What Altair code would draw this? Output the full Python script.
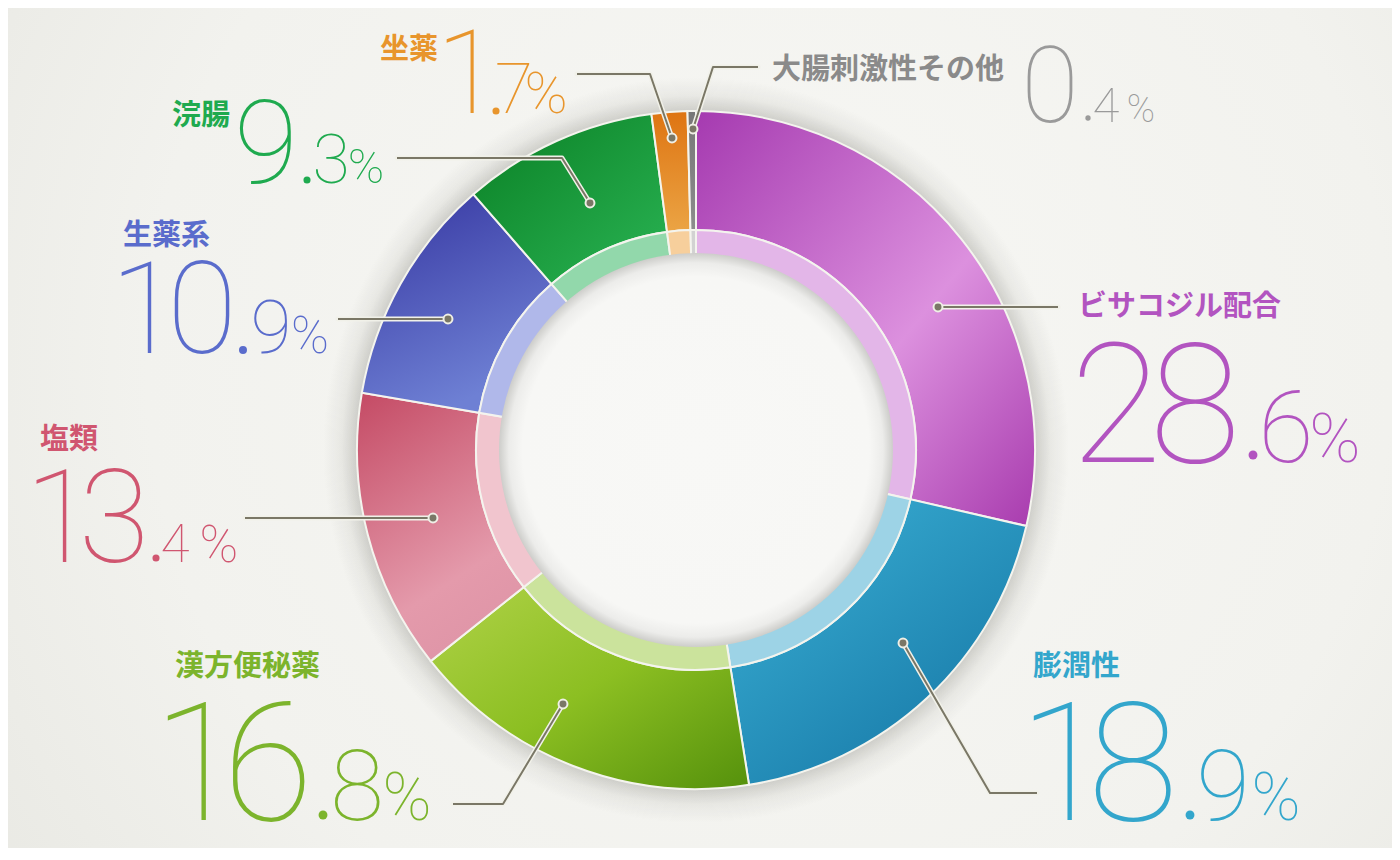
import math
import altair as alt
import pandas as pd

# ---------------- data ----------------
categories = ["ビサコジル配合", "膨潤性", "漢方便秘薬", "塩類", "生薬系", "浣腸", "坐薬", "大腸刺激性その他"]
values = [28.6, 18.9, 16.8, 13.4, 10.9, 9.3, 1.7, 0.4]

# ---------------- styles ----------------
label_colors = ["#b254c0", "#33a6cc", "#7cb42c", "#d05670", "#5a6ccc", "#1faa4f", "#e8952c", "#8a8a8a"]
num_colors = ["#b254c0", "#33a6cc", "#7cb42c", "#d05670", "#5a6ccc", "#1faa4f", "#e8952c", "#9a9a9a"]
ring_colors = ["#e3b6e8", "#9dd3e6", "#cbe39c", "#f1c5ce", "#b0b8ea", "#92d8ab", "#f7cf9c", "#d2d2d2"]
slice_grads = [
    ((0, 0, 1, 1), [(0, "#a53ab0"), (0.58, "#dc90de"), (1, "#a83bae")]),
    ((0, 0, 0.8, 1), [(0, "#3cb2d6"), (1, "#1677a6")]),
    ((0, 0, 1, 1), [(0, "#b0d248"), (0.5, "#8cbf22"), (1, "#55910c")]),
    ((0, 0, 0.4, 1), [(0, "#c44a64"), (0.8, "#e49aab"), (1, "#e096a8")]),
    ((0, 0, 0.4, 1), [(0, "#3535a0"), (1, "#6e80d4")]),
    ((0, 0, 1, 1), [(0, "#0a7f24"), (1, "#2ab454")]),
    ((0, 0, 0, 1), [(0, "#de7412"), (1, "#eba444")]),
    ((0, 0, 0, 1), [(0, "#777777"), (1, "#8c8c8c")]),
]

# ---------------- layout (screen pixels) ----------------
OFF = 8
W, H = 1384, 840
CX, CY = 696, 450
R_OUT, R_RING, R_IN = 339, 220, 197

name_pos = [(1078, 307), (1033, 667), (175, 667), (40, 440), (123, 236), (172, 116), (380, 50), (772, 70)]
int_digit_x = [[1116, 1195], [1064, 1133], [198, 268], [60, 114], [145, 202], [266], [468], [1050]]
baseline = [462, 820, 820, 562, 353, 183, 113, 122]
int_size = [167, 165, 165, 129, 128, 117, 117, 105]
dot_pos = [(1253, 455), (1190, 815), (323, 815), (156, 558), (243, 350), (307, 180), (496, 111), (1088, 118)]
dot_r = [5, 5, 5, 4, 4.5, 4, 4, 3]
dec_x = [1286, 1223, 357, 175, 271, 331, 514, 1106]
dec_size = [101, 98, 98, 53, 75, 68, 70, 49]
pct_x = [1335, 1276, 407, 219, 310, 366, 546, 1141]
pct_size = [69, 66, 66, 52, 51, 49, 58, 38]
leaders = [
    [(938, 307), (1058, 307)],
    [(903, 643), (990, 793), (1037, 793)],
    [(563, 704), (503, 804), (453, 804)],
    [(433, 518), (245, 518)],
    [(448, 319), (338, 319)],
    [(590, 203), (562, 158), (397, 158)],
    [(672, 138), (650, 74), (577, 74)],
    [(693, 129), (713, 67), (758, 67)],
]

TAU = 2 * math.pi

# ---------------- tables ----------------
starts, acc = [], 0.0
for v in values:
    starts.append(acc)
    acc += v
slices = pd.DataFrame({
    "idx": list(range(len(values))),
    "category": categories,
    "value": values,
    "t0": starts,
    "t1": [s + v for s, v in zip(starts, values)],
    "ring": ring_colors,
})

one = pd.DataFrame({"a": [0]})

theta_scale = alt.Scale(domain=[0, 100], range=[0, TAU])
cx = alt.value(CX - OFF)
cy = alt.value(CY - OFF)

# background
bg = alt.Chart(one).mark_rect(
    color=alt.Gradient(
        gradient="radial",
        stops=[alt.GradientStop(offset=0, color="#f7f7f4"),
               alt.GradientStop(offset=0.6, color="#f2f2ee"),
               alt.GradientStop(offset=1, color="#e6e6e0")],
        x1=0.55, y1=0.45, r1=0, x2=0.55, y2=0.45, r2=0.75,
    )
).encode(x=alt.value(0), x2=alt.value(W), y=alt.value(0), y2=alt.value(H))

# outer soft shadow
shadow = alt.Chart(one).mark_arc(
    theta=0, theta2=TAU, innerRadius=0, outerRadius=R_OUT + 34,
    color=alt.Gradient(
        gradient="radial",
        stops=[alt.GradientStop(offset=0, color="rgba(70,70,60,0.22)"),
               alt.GradientStop(offset=R_OUT / (R_OUT + 34), color="rgba(70,70,60,0.22)"),
               alt.GradientStop(offset=0.95, color="rgba(70,70,60,0.07)"),
               alt.GradientStop(offset=1, color="rgba(70,70,60,0)")],
        x1=0.5, y1=0.5, r1=0, x2=0.5, y2=0.5, r2=0.5,
    ),
).encode(x=cx, y=cy)

layers = [bg, shadow]

# slices, each with its own gradient
for i, ((x1, y1, x2, y2), stops) in enumerate(slice_grads):
    grad = alt.Gradient(
        gradient="linear",
        stops=[alt.GradientStop(offset=o, color=c) for o, c in stops],
        x1=x1, y1=y1, x2=x2, y2=y2,
    )
    layers.append(
        alt.Chart(slices).transform_filter(alt.datum.idx == i).mark_arc(
            innerRadius=R_RING, outerRadius=R_OUT, color=grad,
            stroke="#f4f4ee", strokeWidth=2,
        ).encode(
            theta=alt.Theta("t0:Q", scale=theta_scale, stack=None),
            theta2="t1:Q", x=cx, y=cy,
        )
    )

# inner pale ring
ring = alt.Chart(slices).mark_arc(
    innerRadius=R_IN - 2, outerRadius=R_RING, stroke="#f4f4ee", strokeWidth=2,
).encode(
    theta=alt.Theta("t0:Q", scale=theta_scale, stack=None),
    theta2="t1:Q", x=cx, y=cy,
    color=alt.Color("ring:N", scale=None),
)
layers.append(ring)

# inner white disc with inner shadow
disc = alt.Chart(one).mark_arc(
    theta=0, theta2=TAU, innerRadius=0, outerRadius=R_IN,
    color=alt.Gradient(
        gradient="radial",
        stops=[alt.GradientStop(offset=0, color="#f8f8f6"),
               alt.GradientStop(offset=0.88, color="#f7f7f5"),
               alt.GradientStop(offset=0.95, color="#ececea"),
               alt.GradientStop(offset=1, color="#cdcdca")],
        x1=0.5, y1=0.5, r1=0, x2=0.5, y2=0.5, r2=0.5,
    ),
).encode(x=cx, y=cy)
layers.append(disc)

# leader lines
rows = []
for i, pts in enumerate(leaders):
    for j, (px, py) in enumerate(pts):
        rows.append({"id": i, "o": j, "x": px - OFF, "y": py - OFF})
lead = pd.DataFrame(rows)
lx = alt.X("x:Q", scale=None, axis=None)
ly = alt.Y("y:Q", scale=None, axis=None)
halo = alt.Chart(lead).mark_line(color="#f1f1e9", strokeWidth=5, strokeCap="round", strokeJoin="round").encode(
    x=lx, y=ly, detail="id:N", order="o:Q")
line = alt.Chart(lead).mark_line(color="#7a7766", strokeWidth=2, strokeJoin="round").encode(
    x=lx, y=ly, detail="id:N", order="o:Q")
dots = alt.Chart(lead[lead["o"] == 0]).mark_point(
    filled=True, shape="circle", size=80, fill="#7a7766", stroke="#efefe6", strokeWidth=2, opacity=1,
).encode(x=lx, y=ly)
layers += [halo, line, dots]

# labels
def split(v):
    a, b = f"{v:.1f}".split(".")
    return a, b

names = pd.DataFrame({
    "t": categories,
    "x": [p[0] - OFF for p in name_pos],
    "y": [p[1] - OFF for p in name_pos],
    "c": label_colors,
})
digit_rows = []
for i, v in enumerate(values):
    ip = split(v)[0]
    for ch, dx in zip(ip, int_digit_x[i]):
        digit_rows.append({"t": ch, "x": dx - OFF, "y": baseline[i] - OFF, "s": int_size[i], "c": num_colors[i]})
ints = pd.DataFrame(digit_rows)
decs = pd.DataFrame({
    "t": [split(v)[1] for v in values],
    "x": [x - OFF for x in dec_x],
    "y": [b - OFF for b in baseline],
    "s": dec_size,
    "c": num_colors,
})
pcts = pd.DataFrame({
    "t": ["%"] * len(values),
    "x": [x - OFF for x in pct_x],
    "y": [b - OFF for b in baseline],
    "s": pct_size,
    "c": num_colors,
})
ndots = pd.DataFrame({
    "x": [p[0] - OFF for p in dot_pos],
    "y": [p[1] - OFF for p in dot_pos],
    "s": [math.pi * r * r for r in dot_r],
    "c": num_colors,
})

tx = alt.X("x:Q", scale=None, axis=None)
ty = alt.Y("y:Q", scale=None, axis=None)
tc = alt.Color("c:N", scale=None)
ts = alt.Size("s:Q", scale=None)

name_layer = alt.Chart(names).mark_text(
    font="Noto Sans CJK JP", fontWeight="bold", fontSize=29, align="left", baseline="middle",
).encode(x=tx, y=ty, text="t:N", color=tc)
num_font = dict(font="Roboto", fontWeight=100, align="center", baseline="alphabetic")
int_layer = alt.Chart(ints).mark_text(**num_font).encode(x=tx, y=ty, text="t:N", color=tc, size=ts)
dec_layer = alt.Chart(decs).mark_text(**num_font).encode(x=tx, y=ty, text="t:N", color=tc, size=ts)
pct_layer = alt.Chart(pcts).mark_text(**num_font).encode(x=tx, y=ty, text="t:N", color=tc, size=ts)
ndot_layer = alt.Chart(ndots).mark_point(filled=True, shape="circle", opacity=1).encode(
    x=tx, y=ty, color=tc, size=ts)

layers += [name_layer, int_layer, dec_layer, pct_layer, ndot_layer]

chart = alt.layer(*layers).properties(
    width=W, height=H, padding=0, autosize=alt.AutoSizeParams(type="none"),
).configure(background="#eeeeea").configure_view(stroke=None)

chart.save("out.html", embed_options={"renderer": "svg", "actions": False})
